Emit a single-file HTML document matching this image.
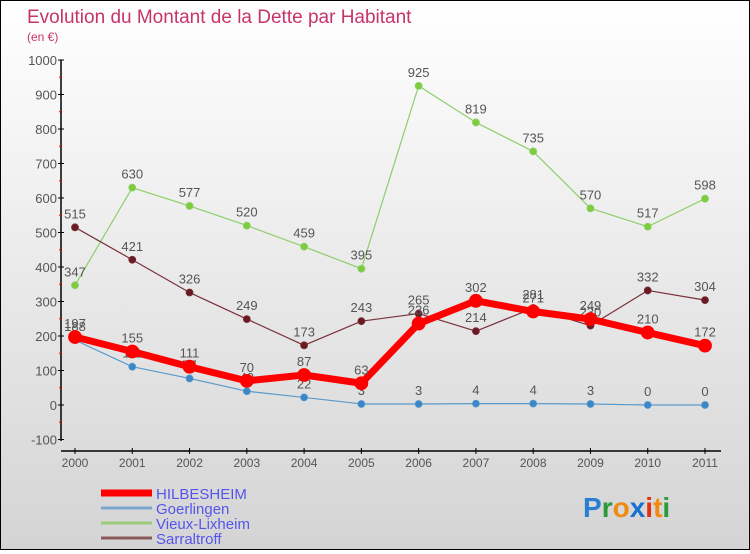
<!DOCTYPE html>
<html><head><meta charset="utf-8">
<style>
body{margin:0;width:750px;height:550px;overflow:hidden;font-family:"Liberation Sans",sans-serif;}
#wrap{position:relative;width:748px;height:548px;border:1px solid #000;background:linear-gradient(#ffffff,#d4d4d4);}
</style></head>
<body>
<div id="wrap">
<svg id="chart" width="748" height="548"></svg>
</div>
<script>
const years=["2000","2001","2002","2003","2004","2005","2006","2007","2008","2009","2010","2011"];
const hilbesheim=[197,155,111,70,87,63,236,302,271,249,210,172];
const goerlingen=[188,111,77,40,22,3,3,4,4,3,0,0];
const vieux=[347,630,577,520,459,395,925,819,735,570,517,598];
const sarraltroff=[515,421,326,249,173,243,265,214,281,230,332,304];
const yTicks=[-100,0,100,200,300,400,500,600,700,800,900,1000];
const NS="http://www.w3.org/2000/svg";
const svg=document.getElementById('chart');
function X(i){return 74+i*(630/11);}
function Y(v){return 404-v*0.345;}
function el(t,a,p){const e=document.createElementNS(NS,t);for(const k in a)e.setAttribute(k,a[k]);(p||svg).appendChild(e);return e;}
function txt(x,y,s,a){const e=el('text',Object.assign({x:x,y:y,'font-size':13,fill:'#555'},a));e.textContent=s;return e;}
let t=txt(26,22,"Evolution du Montant de la Dette par Habitant",{'font-size':19,fill:'#c8336a'});

t=txt(26,40,"(en €)",{'font-size':12,fill:'#c8336a'});

// axes
let ax=el('line',{x1:60,y1:59,x2:60,y2:440,stroke:'#000','stroke-width':1.5});

yTicks.forEach((v,i)=>{el('line',{x1:57,x2:63,y1:Y(v),y2:Y(v),stroke:'#000'});
 if(i<yTicks.length-1)el('line',{x1:58,x2:61,y1:Y(v+50),y2:Y(v+50),stroke:'#e00'});
 const l=txt(56,Y(v)+5,String(v),{'text-anchor':'end'});});
ax=el('line',{x1:60,y1:450,x2:720,y2:450,stroke:'#000','stroke-width':1.5});

years.forEach((y,i)=>{el('line',{x1:X(i),x2:X(i),y1:447,y2:453,stroke:'#000'});
 const l=txt(X(i),466,y,{'text-anchor':'middle','font-size':12});});
function series(data,color,w,r,dot,name){
 const g=el('g',{});
 el('polyline',{points:data.map((v,i)=>X(i)+','+Y(v)).join(' '),fill:'none',stroke:color,'stroke-width':w,'stroke-linejoin':'round'},g);
 data.forEach((v,i)=>{const c=el('circle',{cx:X(i),cy:Y(v),r:r,fill:dot,stroke:color,'stroke-width':0.8},g);
  
  const l=txt(X(i),Y(v)-9,String(v),{'text-anchor':'middle'},g);});
}
series(vieux,'#8ccf6a',1.2,3.5,'#7ccc3c','vieux-lixheim');
series(goerlingen,'#5a9acb',1.2,3.5,'#3a86c8','goerlingen');
series(sarraltroff,'#7a3038',1.2,3.5,'#6a1a22','sarraltroff');
series(hilbesheim,'#ff0000',7,6.5,'#ff0000','hilbesheim');
// legend
const leg=[["HILBESHEIM","#ff0000",7],["Goerlingen","#7aa6cc",3],["Vieux-Lixheim","#9ccc7a",3],["Sarraltroff","#8a5a5a",3]];
leg.forEach((l,i)=>{const g=el('g',{});
 const y=492+i*15;el('line',{x1:100,x2:151,y1:y,y2:y,stroke:l[1],'stroke-width':l[2]},g);
 txt(155,y+6,l[0],{fill:'#5555ee','font-size':15},g);});
// logo
const lg=el('text',{x:582,y:516,'font-size':28,'font-weight':'bold'});

[["P","#2a7fd0"],["r","#2a9a3a"],["o","#f08a10"],["x","#1a70d0"],["i","#e03010"],["t","#f08a10"],["i","#2a9a3a"]].forEach(c=>{const s=el('tspan',{fill:c[1]},lg);s.textContent=c[0];});
</script>
</body></html>
